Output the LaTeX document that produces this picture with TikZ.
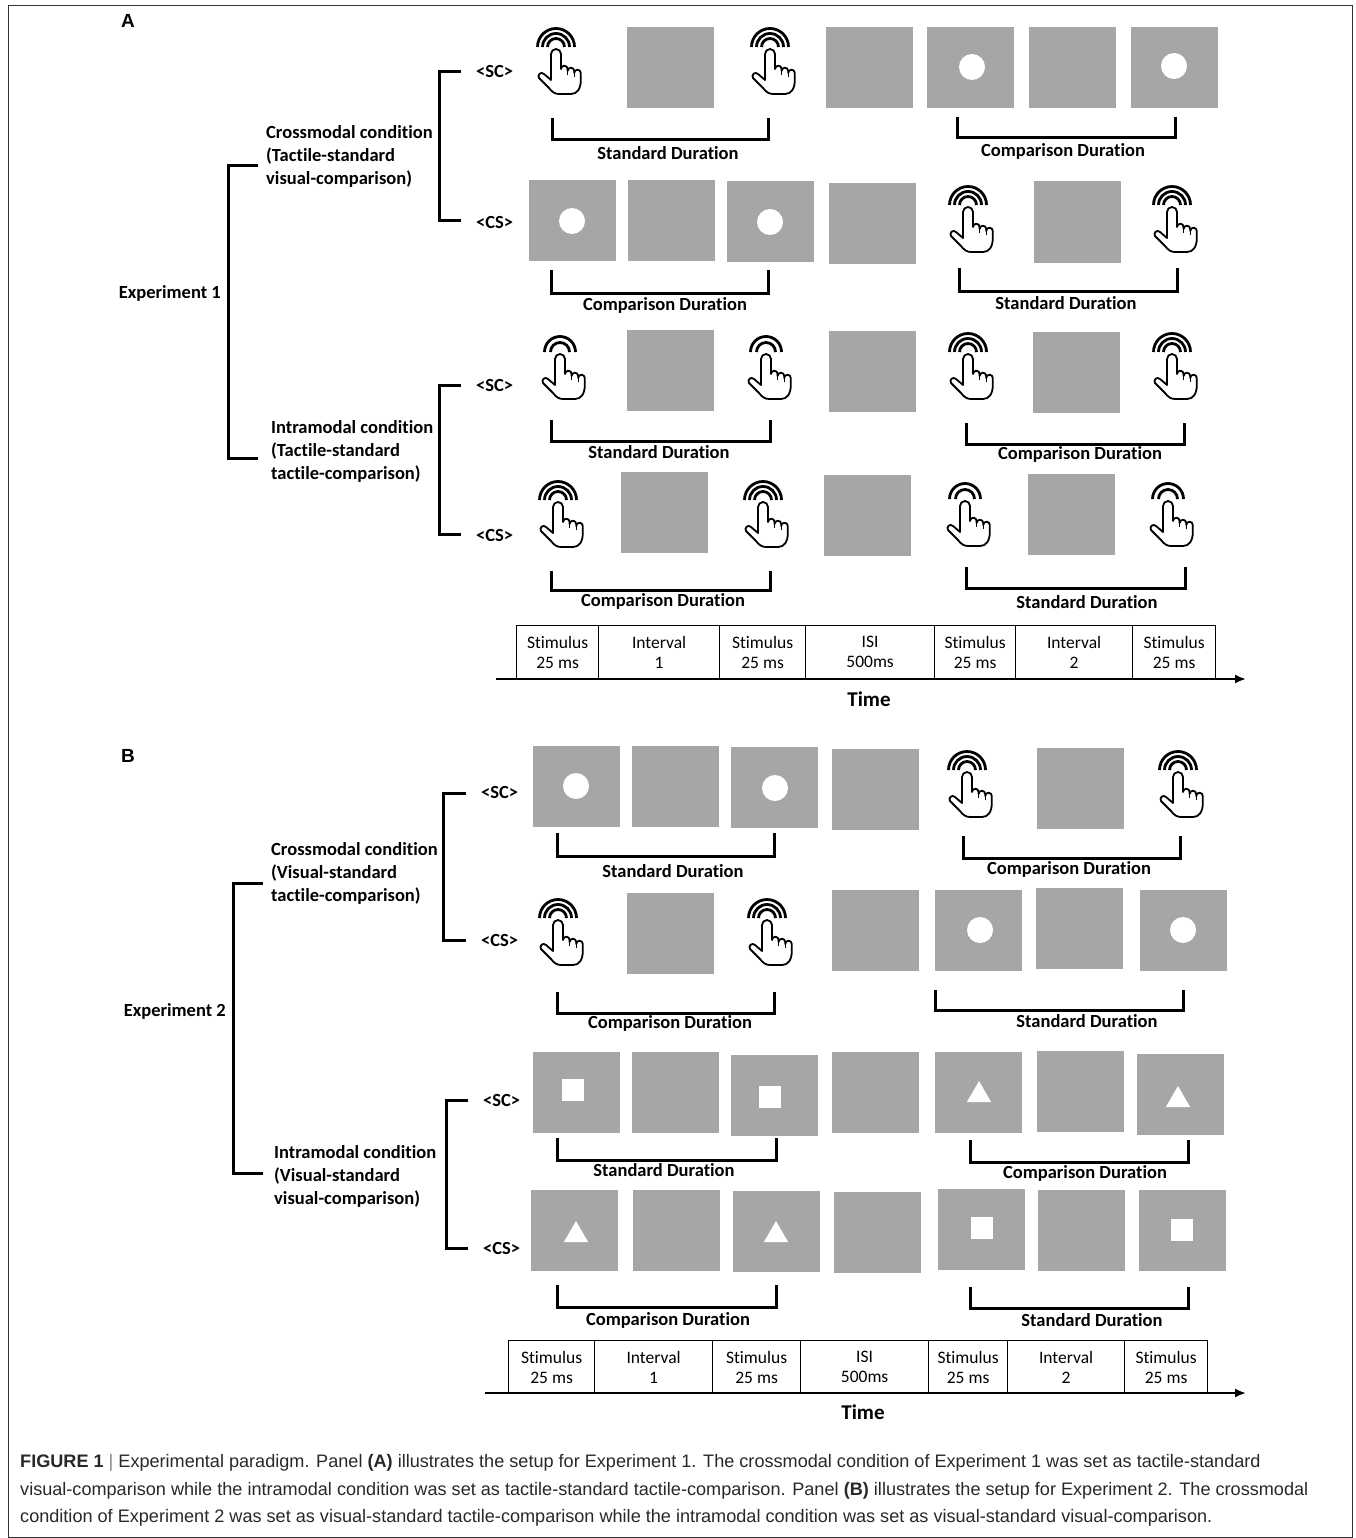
\documentclass[tikz,border=0pt]{standalone}
\usepackage{fontspec}
\setmainfont{Carlito}[Ligatures=NoCommon]
\newfontfamily\capfont{Liberation Sans}
\usetikzlibrary{shapes.geometric,arrows.meta}
\definecolor{stimgray}{RGB}{166,166,166}
\definecolor{capgray}{RGB}{40,40,40}
\newcommand\handbody{%
  \filldraw[handline, fill=white]
    (-5,33) -- (-5,7) arc[start angle=180, end angle=360, radius=5] -- (5,22)
    arc[start angle=180, end angle=360, radius=3.3] -- (11.6,24)
    arc[start angle=180, end angle=360, radius=3.3] -- (18.2,26)
    arc[start angle=180, end angle=360, radius=3.3] -- (24.8,33)
    .. controls (24.8,42) and (21,47) .. (15,47) -- (3,47)
    .. controls (-1,47) and (-4,45) .. (-7,41) -- (-17,31)
    .. controls (-19,28) and (-15,24) .. (-12,27) -- cycle;
  \draw[line width=1.3pt] (11.6,22) -- (11.6,28) (18.2,24) -- (18.2,30);
}
\tikzset{
  sq/.style={fill=stimgray, minimum width=87pt, minimum height=81pt, inner sep=0pt, outer sep=0pt},
  dotw/.style={circle, fill=white, minimum size=26pt, inner sep=0pt},
  sqw/.style={fill=white, minimum size=22pt, inner sep=0pt},
  triw/.style={regular polygon, regular polygon sides=3, fill=white, minimum size=28pt, inner sep=0pt},
  brk/.style={line width=3pt, line join=miter},
  lbl/.style={font=\bfseries\fontsize{18.5}{23}\selectfont, inner sep=0pt},
  cond/.style={lbl, align=left, anchor=west},
  tag/.style={lbl, anchor=west},
  tbox/.style={draw, line width=1.2pt, minimum height=53pt, anchor=north west, inner sep=0pt, align=center, font=\fontsize{17.5}{20}\selectfont},
  handline/.style={line width=1.8pt, line join=round, line cap=round},
  wave/.style={line width=2.8pt},
  timearrow/.style={line width=2pt, -{Latex[length=11pt,width=9pt]}},
  panel/.style={font=\capfont\bfseries\fontsize{19}{22}\selectfont, inner sep=0pt},
  capline/.style={font=\capfont\fontsize{18.1}{20}\selectfont, text=capgray, anchor=west, inner sep=0pt},
  pics/handthree/.style={code={%
    \foreach \r in {8.5,13.5,18.5}{\draw[wave] (-\r,0) arc[start angle=180, end angle=360, radius=\r];}
    \handbody}},
  pics/handtwo/.style={code={%
    \foreach \r in {9.5,15.5}{\draw[wave] (-\r,0) arc[start angle=180, end angle=360, radius=\r];}
    \handbody}},
}
\begin{document}
\begin{tikzpicture}[x=1pt,y=-1pt]
\useasboundingbox (0,0) rectangle (1356,1538);
\draw[line width=1pt, black!80] (8,6) rectangle (1352,1537);

% ---------------- Panel A ----------------
\node[panel] (pA) at (128,21) {A};
\node[lbl, anchor=east] (exp1) at (221,293) {Experiment 1};
\draw[brk] (258,166) -- (228,166) -- (228,458) -- (258,458);
\node[cond] (a_cross) at (266,156) {Crossmodal condition\\(Tactile-standard\\visual-comparison)};
\node[cond] (a_intra) at (271,451) {Intramodal condition\\(Tactile-standard\\tactile-comparison)};
\draw[brk] (461,72) -- (439,72) -- (439,221) -- (461,221);
\draw[brk] (461,385) -- (439,385) -- (439,534) -- (461,534);
\node[tag] (a1t) at (476,72) {<SC>};
\node[tag] (a2t) at (476,222) {<CS>};
\node[tag] (a3t) at (476,385) {<SC>};
\node[tag] (a4t) at (476,535) {<CS>};

% row A1
\pic (a1h1) at (556,47) {handthree};
\node[sq] (a1s2) at (670.5,68) {};
\pic (a1h3) at (770,47) {handthree};
\node[sq] (a1s4) at (869.5,68) {};
\node[sq] (a1s5) at (970.5,68) {}; \node[dotw] (a1d5) at (972,67) {};
\node[sq] (a1s6) at (1072.5,68) {};
\node[sq] (a1s7) at (1174.5,68) {}; \node[dotw] (a1d7) at (1174,66) {};
\draw[brk] (552,118) -- (552,140) -- (768,140) -- (768,118);
\node[lbl] (a1l1) at (668,153) {Standard Duration};
\draw[brk] (957,117) -- (957,138) -- (1175,138) -- (1175,117);
\node[lbl] (a1l2) at (1063,151) {Comparison Duration};

% row A2
\node[sq] (a2s1) at (572,220.5) {}; \node[dotw] (a2d1) at (572,221) {};
\node[sq] (a2s2) at (671.5,220.5) {};
\node[sq] (a2s3) at (770.5,221.5) {}; \node[dotw] (a2d3) at (770,222) {};
\node[sq] (a2s4) at (872,223.5) {};
\pic (a2h5) at (968,205) {handthree};
\node[sq] (a2s6) at (1077,222) {};
\pic (a2h7) at (1172,205) {handthree};
\draw[brk] (551,270) -- (551,293) -- (768,293) -- (768,270);
\node[lbl] (a2l1) at (665,305) {Comparison Duration};
\draw[brk] (959,268) -- (959,291) -- (1177,291) -- (1177,268);
\node[lbl] (a2l2) at (1066,303) {Standard Duration};

% row A3
\pic (a3h1) at (560,352) {handtwo};
\node[sq] (a3s2) at (670,370) {};
\pic (a3h3) at (766,352) {handtwo};
\node[sq] (a3s4) at (872,371.5) {};
\pic (a3h5) at (968,352) {handthree};
\node[sq] (a3s6) at (1076.5,372) {};
\pic (a3h7) at (1172,352) {handthree};
\draw[brk] (551,420) -- (551,441) -- (770,441) -- (770,420);
\node[lbl] (a3l1) at (659,452) {Standard Duration};
\draw[brk] (966,423) -- (966,444) -- (1184,444) -- (1184,423);
\node[lbl] (a3l2) at (1080,454) {Comparison Duration};

% row A4
\pic (a4h1) at (558,500) {handthree};
\node[sq] (a4s2) at (664,512) {};
\pic (a4h3) at (763,500) {handthree};
\node[sq] (a4s4) at (867,515) {};
\pic (a4h5) at (965,499) {handtwo};
\node[sq] (a4s6) at (1071.5,514.5) {};
\pic (a4h7) at (1168,499) {handtwo};
\draw[brk] (551,571) -- (551,590) -- (770,590) -- (770,571);
\node[lbl] (a4l1) at (663,601) {Comparison Duration};
\draw[brk] (966,567) -- (966,588) -- (1185,588) -- (1185,567);
\node[lbl] (a4l2) at (1087,602) {Standard Duration};

% timeline A
\node[tbox, minimum width=82pt] (ta1) at (516,625) {Stimulus\\25 ms};
\node[tbox, minimum width=121pt] (ta2) at (598,625) {Interval\\1};
\node[tbox, minimum width=86pt] (ta3) at (719,625) {Stimulus\\25 ms};
\node[tbox, minimum width=129pt] (ta4) at (805,625) {ISI\\500ms};
\node[tbox, minimum width=81pt] (ta5) at (934,625) {Stimulus\\25 ms};
\node[tbox, minimum width=117pt] (ta6) at (1015,625) {Interval\\2};
\node[tbox, minimum width=83pt] (ta7) at (1132,625) {Stimulus\\25 ms};
\coordinate (tas) at (496,679);
\coordinate (tae) at (1246,679);
\draw[timearrow] (tas) -- (tae);
\node[lbl, font=\bfseries\fontsize{21}{24}\selectfont] (timeA) at (869,699) {Time};

% ---------------- Panel B ----------------
\node[panel] (pB) at (128,756) {B};
\node[lbl, anchor=east] (exp2) at (226,1011) {Experiment 2};
\draw[brk] (263,883) -- (233,883) -- (233,1173) -- (263,1173);
\node[cond] (b_cross) at (271,873) {Crossmodal condition\\(Visual-standard\\tactile-comparison)};
\node[cond] (b_intra) at (274,1176) {Intramodal condition\\(Visual-standard\\visual-comparison)};
\draw[brk] (466,793) -- (443,793) -- (443,940) -- (466,940);
\draw[brk] (468,1100) -- (446,1100) -- (446,1248) -- (468,1248);
\node[tag] (b1t) at (481,792) {<SC>};
\node[tag] (b2t) at (481,940) {<CS>};
\node[tag] (b3t) at (483,1100) {<SC>};
\node[tag] (b4t) at (483,1248) {<CS>};

% row B1
\node[sq] (b1s1) at (576,786) {}; \node[dotw] (b1d1) at (576,786) {};
\node[sq] (b1s2) at (675,786) {};
\node[sq] (b1s3) at (774.5,787) {}; \node[dotw] (b1d3) at (775,788) {};
\node[sq] (b1s4) at (875.5,789) {};
\pic (b1h5) at (967,770) {handthree};
\node[sq] (b1s6) at (1080.5,788) {};
\pic (b1h7) at (1178,770) {handthree};
\draw[brk] (557,833) -- (557,856) -- (774,856) -- (774,833);
\node[lbl] (b1l1) at (673,871) {Standard Duration};
\draw[brk] (963,836) -- (963,858) -- (1180,858) -- (1180,836);
\node[lbl] (b1l2) at (1069,869) {Comparison Duration};

% row B2
\pic (b2h1) at (558,918) {handthree};
\node[sq] (b2s2) at (670,933.5) {};
\pic (b2h3) at (767,918) {handthree};
\node[sq] (b2s4) at (875.5,930.5) {};
\node[sq] (b2s5) at (978.5,930) {}; \node[dotw] (b2d5) at (980,930) {};
\node[sq] (b2s6) at (1079,928) {};
\node[sq] (b2s7) at (1183.5,930) {}; \node[dotw] (b2d7) at (1183,930) {};
\draw[brk] (557,992) -- (557,1013) -- (774,1013) -- (774,992);
\node[lbl] (b2l1) at (670,1023) {Comparison Duration};
\draw[brk] (935,990) -- (935,1010) -- (1183,1010) -- (1183,990);
\node[lbl] (b2l2) at (1087,1021) {Standard Duration};

% row B3
\node[sq] (b3s1) at (576,1092.5) {}; \node[sqw] (b3w1) at (573,1090) {};
\node[sq] (b3s2) at (675,1092.5) {};
\node[sq] (b3s3) at (774,1095) {}; \node[sqw] (b3w3) at (770,1097) {};
\node[sq] (b3s4) at (875,1092.5) {};
\node[sq] (b3s5) at (978.5,1092.5) {}; \node[triw] (b3w5) at (979,1095) {};
\node[sq] (b3s6) at (1080,1091) {};
\node[sq] (b3s7) at (1180,1094) {}; \node[triw] (b3w7) at (1178,1100) {};
\draw[brk] (557,1138) -- (557,1160) -- (776,1160) -- (776,1138);
\node[lbl] (b3l1) at (664,1170) {Standard Duration};
\draw[brk] (970,1140) -- (970,1162) -- (1188,1162) -- (1188,1140);
\node[lbl] (b3l2) at (1085,1173) {Comparison Duration};

% row B4
\node[sq] (b4s1) at (574.5,1230.5) {}; \node[triw] (b4w1) at (576,1235) {};
\node[sq] (b4s2) at (676,1230.5) {};
\node[sq] (b4s3) at (776.5,1231) {}; \node[triw] (b4w3) at (776,1235) {};
\node[sq] (b4s4) at (877.5,1232.5) {};
\node[sq] (b4s5) at (981.5,1229) {}; \node[sqw] (b4w5) at (982,1228) {};
\node[sq] (b4s6) at (1081.5,1230) {};
\node[sq] (b4s7) at (1182.5,1230) {}; \node[sqw] (b4w7) at (1182,1230) {};
\draw[brk] (557,1285) -- (557,1307) -- (776,1307) -- (776,1285);
\node[lbl] (b4l1) at (668,1320) {Comparison Duration};
\draw[brk] (970,1287) -- (970,1308) -- (1188,1308) -- (1188,1287);
\node[lbl] (b4l2) at (1092,1320) {Standard Duration};

% timeline B
\node[tbox, minimum width=86pt] (tb1) at (508,1340) {Stimulus\\25 ms};
\node[tbox, minimum width=118pt] (tb2) at (594,1340) {Interval\\1};
\node[tbox, minimum width=88pt] (tb3) at (712,1340) {Stimulus\\25 ms};
\node[tbox, minimum width=128pt] (tb4) at (800,1340) {ISI\\500ms};
\node[tbox, minimum width=79pt] (tb5) at (928,1340) {Stimulus\\25 ms};
\node[tbox, minimum width=117pt] (tb6) at (1007,1340) {Interval\\2};
\node[tbox, minimum width=83pt] (tb7) at (1124,1340) {Stimulus\\25 ms};
\coordinate (tbs) at (485,1393);
\coordinate (tbe) at (1246,1393);
\draw[timearrow] (tbs) -- (tbe);
\node[lbl, font=\bfseries\fontsize{21}{24}\selectfont] (timeB) at (863,1412) {Time};

% caption
\node[capline] (cap1) at (20,1463) {\textbf{FIGURE 1} {\color{black!50}|} Experimental paradigm. Panel \textbf{(A)} illustrates the setup for Experiment 1. The crossmodal condition of Experiment 1 was set as tactile-standard};
\node[capline] (cap2) at (20,1491) {visual-comparison while the intramodal condition was set as tactile-standard tactile-comparison. Panel \textbf{(B)} illustrates the setup for Experiment 2. The crossmodal};
\node[capline] (cap3) at (20,1518) {condition of Experiment 2 was set as visual-standard tactile-comparison while the intramodal condition was set as visual-standard visual-comparison.};
\end{tikzpicture}
\end{document}
